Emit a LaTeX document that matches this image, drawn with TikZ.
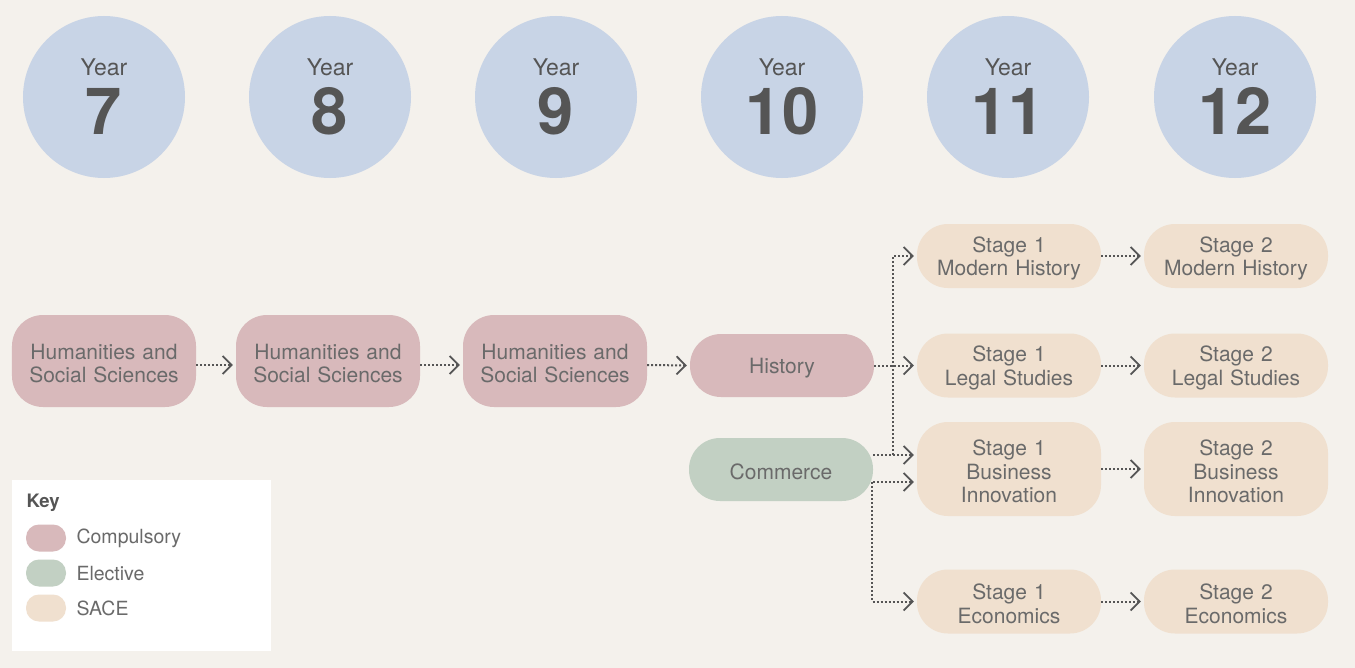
\documentclass[tikz,border=0pt]{standalone}
\usepackage{fontspec}
\setmainfont{TeX Gyre Heros}
\usetikzlibrary{arrows.meta,calc}
\definecolor{bg}{HTML}{F4F1EC}
\definecolor{yearc}{HTML}{C8D4E6}
\definecolor{comp}{HTML}{D8B9BB}
\definecolor{elec}{HTML}{C2D0C3}
\definecolor{sace}{HTML}{F0E0CF}
\definecolor{txt}{HTML}{6A6A6A}
\definecolor{dark}{HTML}{555555}
\tikzset{
  yearbox/.style={circle,fill=yearc,minimum size=162bp,inner sep=0pt},
  pill/.style={rounded corners=31bp,inner sep=0pt,minimum width=184bp,text width=184bp,align=center,text=txt,font=\fontsize{21bp}{23.5bp}\selectfont,
    execute at begin node={\rule{0pt}{20.5bp}}},
  compbox/.style={pill,fill=comp,minimum height=92bp},
  histbox/.style={pill,fill=comp,minimum height=63bp},
  elecbox/.style={pill,fill=elec,minimum height=63bp},
  sacebox/.style={pill,fill=sace,minimum height=64bp},
  sacetall/.style={pill,fill=sace,minimum height=94bp},
  conn/.style={dash pattern=on 2bp off 2bp,line width=2bp,draw=dark,shorten >=3bp,
    -{Straight Barb[length=9bp,width=18bp,line width=1.8bp]}},
  keypill/.style={rounded corners=13bp,minimum width=40bp,minimum height=27bp,inner sep=0pt},
  keytxt/.style={anchor=west,text=txt,font=\fontsize{19.5bp}{21bp}\selectfont},
}
\begin{document}
\begin{tikzpicture}[x=1bp,y=-1bp]
\useasboundingbox[fill=bg] (0,0) rectangle (1355,668);
% year circles
\foreach \n/\x in {7/104,8/330,9/556,10/782,11/1008,12/1235}{
  \node[yearbox] (y\n) at (\x,97) {};
  \node[text=dark,font=\fontsize{23bp}{25bp}\selectfont] (yl\n) at (\x,67) {Year};
  \node[text=dark,font=\fontsize{65bp}{68bp}\selectfont\bfseries] (yn\n) at (\x,111) {\n};
}
% compulsory
\node[compbox] (h1) at (104,361) {Humanities and\\Social Sciences};
\node[compbox] (h2) at (328,361) {Humanities and\\Social Sciences};
\node[compbox] (h3) at (555,361) {Humanities and\\Social Sciences};
\node[histbox] (hist) at (782,365.5) {History};
\node[elecbox] (com) at (781,469.5) {Commerce};
% stage 1
\node[sacebox] (mh1) at (1009,256) {Stage 1\\Modern History};
\node[sacebox] (ls1) at (1009,365.5) {Stage 1\\Legal Studies};
\node[sacetall] (bi1) at (1009,469) {Stage 1\\Business\\Innovation};
\node[sacebox] (ec1) at (1009,601.5) {Stage 1\\Economics};
% stage 2
\node[sacebox] (mh2) at (1236,256) {Stage 2\\Modern History};
\node[sacebox] (ls2) at (1236,365.5) {Stage 2\\Legal Studies};
\node[sacetall] (bi2) at (1236,469) {Stage 2\\Business\\Innovation};
\node[sacebox] (ec2) at (1236,601.5) {Stage 2\\Economics};
% connectors
\draw[conn] ([yshift=-4bp]h1.east) -- ([yshift=-4bp]h2.west);
\draw[conn] ([yshift=-4bp]h2.east) -- ([yshift=-4bp]h3.west);
\draw[conn] ([yshift=-4bp]h3.east) -- (hist.west);
\draw[conn] (hist.east) -- (ls1.west);
\draw[conn] ([yshift=14.5bp]com.east) -- ++(20,0) |- (mh1.west);
\draw[conn] ([yshift=14.5bp]com.east) -- ([yshift=14bp]bi1.west);
\draw[conn] ([yshift=-12.5bp]com.east) -- ([yshift=-13bp]bi1.west);
\draw[conn] ([xshift=-1bp,yshift=-12.5bp]com.east) |- (ec1.west);
\foreach \a in {mh,ls,bi,ec}{
  \draw[conn] (\a1.east) -- (\a2.west);
}
% key
\node[fill=white,minimum width=259bp,minimum height=171bp,inner sep=0pt] (key) at (141.5,565.5) {};
\node[anchor=west,text=dark,font=\fontsize{18.5bp}{20bp}\selectfont\bfseries] (keyt) at (23,503) {Key};
\node[keypill,fill=comp] (kc) at (46,538) {};
\node[keytxt] (kct) at (73,538.5) {Compulsory};
\node[keypill,fill=elec] (ke) at (46,573) {};
\node[keytxt] (ket) at (73,573.5) {Elective};
\node[keypill,fill=sace] (ks) at (46,608) {};
\node[keytxt] (kst) at (73,608.5) {SACE};
\end{tikzpicture}
\end{document}
